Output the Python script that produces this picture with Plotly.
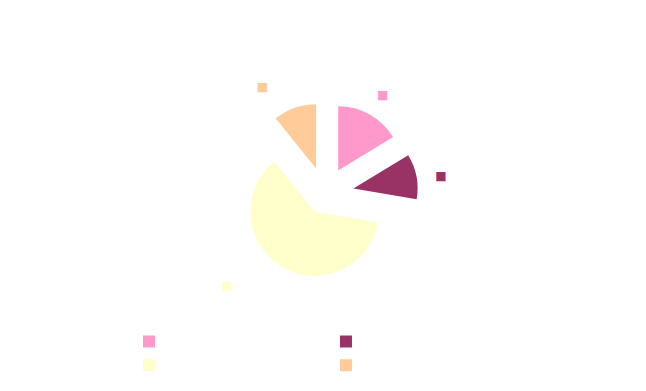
import plotly.graph_objects as go

NB = "\u00a0"
categories = [NB, NB * 2, NB * 3, NB * 4]
values = [16.3, 11.4, 61.5, 10.8]
colors = ["#FF99CC", "#993366", "#FFFFCC", "#FFCC99"]
pulls = [0.42, 0.45, 0.32, 0.42]
# outside data labels: Excel-style legend key glyph (label text itself not rendered)
label_marks = [
    "■<br>" + NB,
    NB * 4 + "■",
    NB + "<br>■" + NB * 11,
    "■" + NB * 5 + "<br>" + NB,
]

fig = go.Figure(go.Pie(
    labels=categories,
    values=values,
    text=label_marks,
    textinfo="text",
    textposition="outside",
    outsidetextfont=dict(color=colors, size=12, family="DejaVu Sans"),
    marker=dict(colors=colors, line=dict(width=0)),
    pull=pulls,
    sort=False,
    direction="clockwise",
    rotation=0,
    hole=0,
    domain=dict(x=[0.2045, 0.8045], y=[0.266, 0.742]),
))

fig.update_layout(
    width=646, height=391,
    margin=dict(l=100, r=100, t=0, b=0, autoexpand=False),
    paper_bgcolor="white",
    plot_bgcolor="white",
    showlegend=True,
    legend=dict(
        orientation="h",
        x=0.065, y=0.17, xanchor="left", yanchor="top",
        entrywidth=152, entrywidthmode="pixels",
        font=dict(size=16, color="rgba(0,0,0,0)"),
        bgcolor="rgba(0,0,0,0)",
    ),
)

fig.write_html("out.html")
